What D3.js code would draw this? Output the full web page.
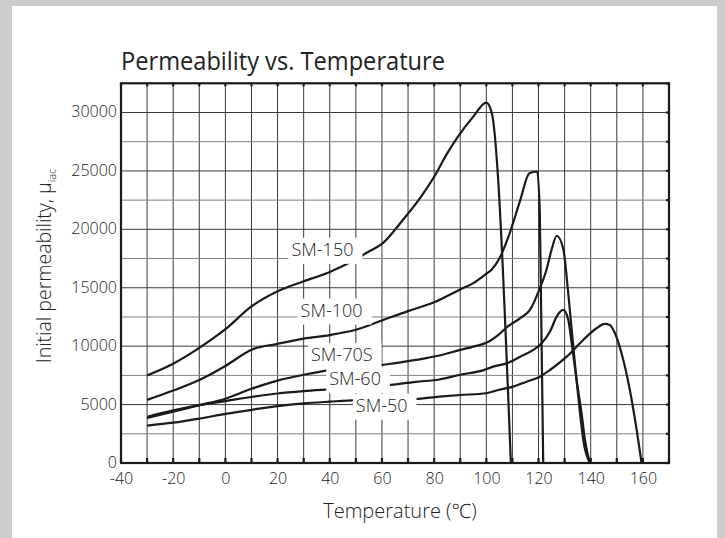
<!DOCTYPE html>
<html>
<head>
<meta charset="utf-8">
<script src="https://cdn.jsdelivr.net/npm/d3@7"></script>
<style>
  html, body { margin: 0; padding: 0; background: #cccccc; }
  svg { display: block; }
  text { font-family: "Open Sans", "Noto Sans", sans-serif; fill: #222; }
</style>
</head>
<body>
<div id="chart"></div>
<script>
// readings taken off the reference curves: [temperature °C, initial permeability]
const sm150 = [[-30,7500],[-20,8500],[-10,9850],[0,11450],[10,13400],[20,14700],[30,15550],[40,16350],[48,17200],[55,18100],[60,18750],[68,20800],[75,22800],[80,24500],[85,26500],[89,27900],[95,29650],[100,30850],[102,30050],[109.4,0]];
const sm100 = [[-30,5400],[-20,6200],[-10,7100],[0,8300],[10,9700],[20,10200],[30,10650],[40,10950],[50,11400],[60,12200],[70,13000],[80,13750],[86,14400],[90,14850],[95,15400],[100,16200],[102,16550],[105,17500],[109,19700],[113,22500],[116.5,24800],[119.5,24950],[120.5,21400],[121.8,0]];
const sm70s = [[-30,3850],[-20,4400],[-10,4950],[0,5500],[10,6350],[20,7050],[30,7550],[40,7950],[50,8200],[62,8450],[73,8820],[82,9200],[90,9680],[95,9960],[101,10400],[104.5,10950],[108,11650],[113,12400],[116.7,13100],[120.5,14950],[123,16500],[125,18250],[127,19450],[129.5,18300],[131.4,14500],[133.3,10000],[135.9,4300],[137.2,1900],[139.7,0]];
const sm60 = [[-30,3950],[-20,4500],[-10,4950],[0,5300],[10,5650],[20,5950],[30,6150],[40,6300],[50,6450],[62,6650],[73,6950],[82,7150],[90,7550],[99,7950],[102.6,8250],[108,8550],[113,9100],[118,9680],[121.2,10250],[124.4,11250],[127,12550],[129.5,13100],[131.4,12250],[132.7,10250],[134.6,7100],[136.5,4250],[137.8,1950],[139.7,0]];
const sm50 = [[-30,3200],[-20,3450],[-10,3800],[0,4200],[10,4550],[20,4870],[30,5100],[40,5250],[50,5380],[60,5420],[72.6,5480],[82,5680],[90,5820],[100,5970],[104.6,6250],[110.3,6540],[115.4,6960],[120.5,7390],[124.4,7960],[130.8,9100],[137.1,10530],[142.2,11530],[145.4,11900],[147.3,11820],[149.3,11100],[151.8,9400],[155,6250],[157.6,2850],[159.5,0]];

const seriesNames = ["SM-150", "SM-100", "SM-70S", "SM-60", "SM-50"];
const seriesData = [sm150, sm100, sm70s, sm60, sm50];
// where each name sits, in data units (centre, baseline)
const labelAt = [[37.2,17730],[40.7,12530],[44.6,8735],[49.7,6680],[59.9,4390]];

const xTicks = d3.range(-40, 161, 20);
const yTicks = d3.range(0, 30001, 5000);
const xGrid = d3.range(-40, 171, 10);
const yGrid = d3.range(0, 32501, 2500);

const titleText = "Permeability vs. Temperature";
const xTitle = "Temperature (℃)";
const yTitle = "Initial permeability, μ";
const ySub = "iac";

const W = 725, H = 538;
const plotL = 121, plotR = 669, plotT = 83.3, plotB = 463;

const svg = d3.select("#chart").append("svg")
    .attr("width", W).attr("height", H);

// white panel on grey page
svg.append("rect").attr("x", 12).attr("y", 6).attr("width", 705).attr("height", H - 6).attr("fill", "#fff");

const x = d3.scaleLinear().domain([-40, 170]).range([plotL, plotR]);
const y = d3.scaleLinear().domain([0, 32500]).range([plotB, plotT]);

const g = svg.append("g");

// grid
g.selectAll(".vgrid").data(xGrid).join("line")
    .attr("x1", d => x(d)).attr("x2", d => x(d))
    .attr("y1", plotT).attr("y2", plotB)
    .attr("stroke", "#3a3a3a").attr("stroke-width", 1);

g.selectAll(".hgrid").data(yGrid).join("line")
    .attr("x1", plotL).attr("x2", plotR)
    .attr("y1", d => y(d)).attr("y2", d => y(d))
    .attr("stroke", d => d % 5000 === 0 ? "#3a3a3a" : "#808080")
    .attr("stroke-width", 1);

// curves
const line = d3.line()
    .x(d => x(d[0])).y(d => y(d[1]))
    .curve(d3.curveMonotoneX);

g.selectAll(".curve").data(seriesData).join("path")
    .attr("d", line)
    .attr("fill", "none")
    .attr("stroke", "#1a1a1a")
    .attr("stroke-width", 2.2)
    .attr("stroke-linejoin", "round");

// curve names on white patches
const labels = g.selectAll(".lbl").data(seriesNames).join("g");
labels.each(function (name, i) {
    const el = d3.select(this);
    const t = el.append("text")
        .attr("x", x(labelAt[i][0])).attr("y", y(labelAt[i][1]))
        .attr("text-anchor", "middle")
        .attr("font-size", 18).attr("font-weight", 300)
        .text(name);
    const b = t.node().getBBox();
    el.insert("rect", "text")
        .attr("x", b.x - 3).attr("y", b.y + 1)
        .attr("width", b.width + 12).attr("height", b.height + 2)
        .attr("fill", "#fff");
});

// frame and small inward ticks
g.append("rect")
    .attr("x", plotL).attr("y", plotT)
    .attr("width", plotR - plotL).attr("height", plotB - plotT)
    .attr("fill", "none").attr("stroke", "#1a1a1a").attr("stroke-width", 2.2);

g.selectAll(".tb").data(xGrid).join("line")
    .attr("x1", d => x(d)).attr("x2", d => x(d))
    .attr("y1", plotB).attr("y2", plotB - 5)
    .attr("stroke", "#1a1a1a").attr("stroke-width", 2.2);
g.selectAll(".tt").data(xGrid).join("line")
    .attr("x1", d => x(d)).attr("x2", d => x(d))
    .attr("y1", plotT).attr("y2", plotT + 3)
    .attr("stroke", "#1a1a1a").attr("stroke-width", 2.2);
g.selectAll(".tr").data(yGrid).join("line")
    .attr("x1", plotR).attr("x2", plotR - 3)
    .attr("y1", d => y(d)).attr("y2", d => y(d))
    .attr("stroke", "#1a1a1a").attr("stroke-width", 2.2);

// axes (labels only)
const xAxis = svg.append("g")
    .attr("transform", `translate(0,${plotB})`)
    .call(d3.axisBottom(x).tickValues(xTicks).tickSize(0).tickPadding(10).tickFormat(d => String(d)));
const yAxis = svg.append("g")
    .attr("transform", `translate(${plotL},0)`)
    .call(d3.axisLeft(y).tickValues(yTicks).tickSize(0).tickPadding(4).tickFormat(d => String(d)));
[xAxis, yAxis].forEach(a => {
    a.select(".domain").remove();
    a.selectAll("text")
        .attr("font-size", 16).attr("font-weight", 300)
        .style("font-family", '"Open Sans", "Noto Sans", sans-serif')
        .attr("fill", "#222");
});
yAxis.selectAll("text").attr("dy", "0.28em");

// title
const title = svg.append("text")
    .attr("x", plotL).attr("y", 70)
    .attr("font-size", 25)
    .text(titleText);
const tw = title.node().getComputedTextLength();
if (tw > 324) title.attr("textLength", 324).attr("lengthAdjust", "spacingAndGlyphs");

// axis titles
svg.append("text")
    .attr("x", 400).attr("y", 518)
    .attr("text-anchor", "middle")
    .attr("font-size", 20).attr("font-weight", 300)
    .text(xTitle);

const yt = svg.append("text")
    .attr("transform", "translate(51,266) rotate(-90)")
    .attr("text-anchor", "middle")
    .attr("font-size", 19.5).attr("font-weight", 300);
yt.append("tspan").text(yTitle);
yt.append("tspan").attr("dy", "0.45em").attr("font-size", 11).text(ySub);
</script>
</body>
</html>
